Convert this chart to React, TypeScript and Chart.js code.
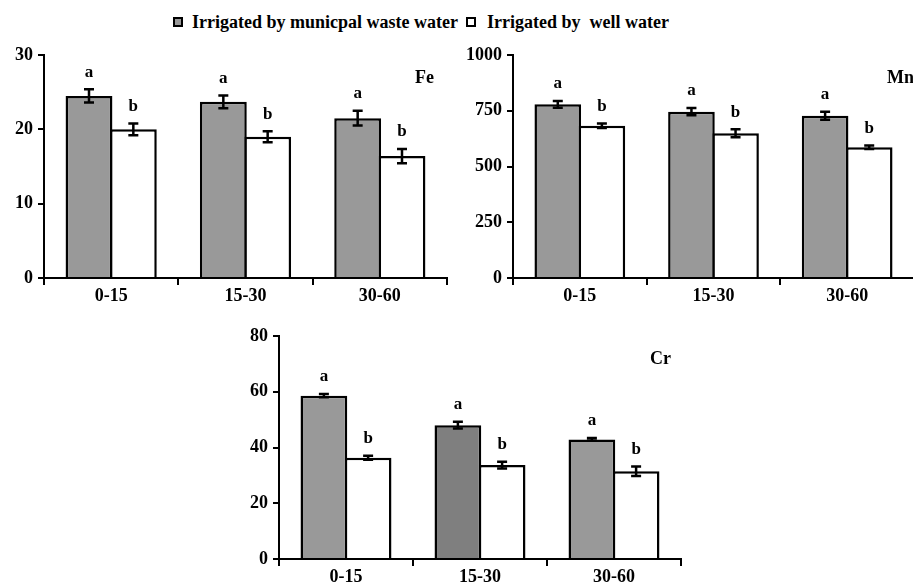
import React, { useEffect, useRef } from 'react';
import { Chart, registerables } from 'chart.js';
Chart.register(...registerables);

const depths = ['0-15', '15-30', '30-60'];
const seriesNames = ['Irrigated by municpal waste water', 'Irrigated by  well water'];

const feWaste = [24.5, 23.7, 21.5];
const feWasteErr = [0.9, 0.85, 1.0];
const feWell = [20.0, 19.0, 16.4];
const feWellErr = [0.8, 0.75, 0.95];
const feTicks = { min: 0, max: 30, step: 10 };

const mnWaste = [779, 746, 728];
const mnWasteErr = [15, 16, 18];
const mnWell = [683, 649, 586];
const mnWellErr = [10, 18, 8];
const mnTicks = { min: 0, max: 1000, step: 250 };

const crWaste = [58.6, 48.0, 42.9];
const crWasteErr = [0.6, 1.2, 0.5];
const crWell = [36.3, 33.7, 31.5];
const crWellErr = [0.7, 1.2, 1.7];
const crTicks = { min: 0, max: 80, step: 20 };

const wasteLetters = ['a', 'a', 'a'];
const wellLetters = ['b', 'b', 'b'];

const GRAY = '#999999';
const DARK = '#7f7f7f';
const FONT = '"Liberation Serif", "DejaVu Serif", "Noto Serif", Tinos, serif';

type Spec = {
  element: string;
  waste: number[];
  wasteErr: number[];
  well: number[];
  wellErr: number[];
  ticks: { min: number; max: number; step: number };
  wasteColors: string[];
  yWidth: number;
  xHeight: number;
  padTop: number;
  padRight: number;
  labelDx: number;
};

function makeChart(canvas: HTMLCanvasElement, s: Spec) {
  const errs = [s.wasteErr, s.wellErr];
  const letters = [wasteLetters, wellLetters];
  const plugin = {
    id: 'extras',
    afterDatasetsDraw(chart: any) {
      const ctx = chart.ctx;
      const y = chart.scales.y;
      ctx.save();
      ctx.strokeStyle = '#000';
      ctx.fillStyle = '#000';
      ctx.lineWidth = 2.5;
      chart.data.datasets.forEach((ds: any, di: number) => {
        const meta = chart.getDatasetMeta(di);
        meta.data.forEach((el: any, i: number) => {
          const v = ds.data[i];
          const e = errs[di][i];
          const top = y.getPixelForValue(v + e);
          const bot = y.getPixelForValue(v - e);
          ctx.beginPath();
          ctx.moveTo(el.x, top);
          ctx.lineTo(el.x, bot);
          ctx.moveTo(el.x - 5, top);
          ctx.lineTo(el.x + 5, top);
          ctx.moveTo(el.x - 5, bot);
          ctx.lineTo(el.x + 5, bot);
          ctx.stroke();
          ctx.font = `bold 17px ${FONT}`;
          ctx.textAlign = 'center';
          ctx.textBaseline = 'middle';
          ctx.fillText(letters[di][i], el.x, top - 17);
        });
      });
      const ca = chart.chartArea;
      ctx.font = `bold 18px ${FONT}`;
      ctx.textAlign = 'left';
      ctx.textBaseline = 'middle';
      ctx.fillText(s.element, ca.right - s.labelDx, ca.top + 23);
      ctx.restore();
    },
  };
  return new Chart(canvas, {
    type: 'bar',
    data: {
      labels: depths,
      datasets: [
        {
          label: seriesNames[0],
          data: s.waste,
          backgroundColor: s.wasteColors,
          borderColor: '#000',
          borderWidth: 2.5,
          categoryPercentage: 0.66,
          barPercentage: 1.057,
        },
        {
          label: seriesNames[1],
          data: s.well,
          backgroundColor: '#ffffff',
          borderColor: '#000',
          borderWidth: 2.5,
          categoryPercentage: 0.66,
          barPercentage: 1.057,
        },
      ],
    },
    options: {
      responsive: false,
      animation: false,
      devicePixelRatio: 1,
      layout: { padding: { top: s.padTop, right: s.padRight, left: 0, bottom: 0 } },
      plugins: { legend: { display: false }, tooltip: { enabled: false }, title: { display: false } },
      scales: {
        x: {
          grid: { offset: true, drawOnChartArea: false, drawTicks: true, tickLength: 7, color: '#000', lineWidth: 2 },
          border: { display: true, color: '#000', width: 2 },
          ticks: { color: '#000', font: { family: FONT, size: 18, weight: 'bold' }, padding: 1, maxRotation: 0 },
          afterFit: (sc: any) => { sc.height = s.xHeight; },
        },
        y: {
          min: s.ticks.min,
          max: s.ticks.max,
          grid: { drawOnChartArea: false, drawTicks: true, tickLength: 6, color: '#000', lineWidth: 2 },
          border: { display: true, color: '#000', width: 2 },
          ticks: { stepSize: s.ticks.step, color: '#000', font: { family: FONT, size: 18, weight: 'bold' }, padding: 5, callback: (v: any) => String(v) },
          afterFit: (sc: any) => { sc.width = s.yWidth; },
        },
      },
    },
    plugins: [plugin],
  } as any);
}

function ChartBox(props: { spec: Spec; left: number; top: number; width: number; height: number }) {
  const ref = useRef<HTMLCanvasElement>(null);
  useEffect(() => {
    if (!ref.current) return;
    const c = makeChart(ref.current, props.spec);
    return () => c.destroy();
  }, []);
  return (
    <canvas
      ref={ref}
      width={props.width}
      height={props.height}
      style={{ position: 'absolute', left: props.left, top: props.top, width: props.width, height: props.height }}
    />
  );
}

const legendBox = (fill: string, left: number) => (
  <div style={{ position: 'absolute', left, top: 17, width: 6, height: 6, border: '2px solid #000', background: fill }} />
);

export default function App() {
  const fe: Spec = { element: 'Fe', waste: feWaste, wasteErr: feWasteErr, well: feWell, wellErr: feWellErr, ticks: feTicks, wasteColors: [GRAY, GRAY, GRAY], yWidth: 44, xHeight: 42, padTop: 55, padRight: 13, labelDx: 32 };
  const mn: Spec = { element: 'Mn', waste: mnWaste, wasteErr: mnWasteErr, well: mnWell, wellErr: mnWellErr, ticks: mnTicks, wasteColors: [GRAY, GRAY, GRAY], yWidth: 58, xHeight: 42, padTop: 55, padRight: 1, labelDx: 27 };
  const cr: Spec = { element: 'Cr', waste: crWaste, wasteErr: crWasteErr, well: crWell, wellErr: crWellErr, ticks: crTicks, wasteColors: [GRAY, DARK, GRAY], yWidth: 54, xHeight: 27, padTop: 36, padRight: 4, labelDx: 31 };
  const textStyle: React.CSSProperties = { position: 'absolute', top: 11, fontFamily: FONT, fontWeight: 'bold', fontSize: 18, lineHeight: '22px', whiteSpace: 'pre', color: '#000' };
  return (
    <div style={{ position: 'absolute', left: 0, top: 0, width: 913, height: 586, overflow: 'hidden', background: '#fff' }}>
      {legendBox(GRAY, 173)}
      <span style={{ ...textStyle, left: 192 }}>{seriesNames[0]}</span>
      {legendBox('#fff', 466)}
      <span style={{ ...textStyle, left: 487 }}>{seriesNames[1]}</span>
      <ChartBox spec={fe} left={0} top={0} width={460} height={320} />
      <ChartBox spec={mn} left={455} top={0} width={460} height={320} />
      <ChartBox spec={cr} left={225} top={300} width={460} height={286} />
    </div>
  );
}
